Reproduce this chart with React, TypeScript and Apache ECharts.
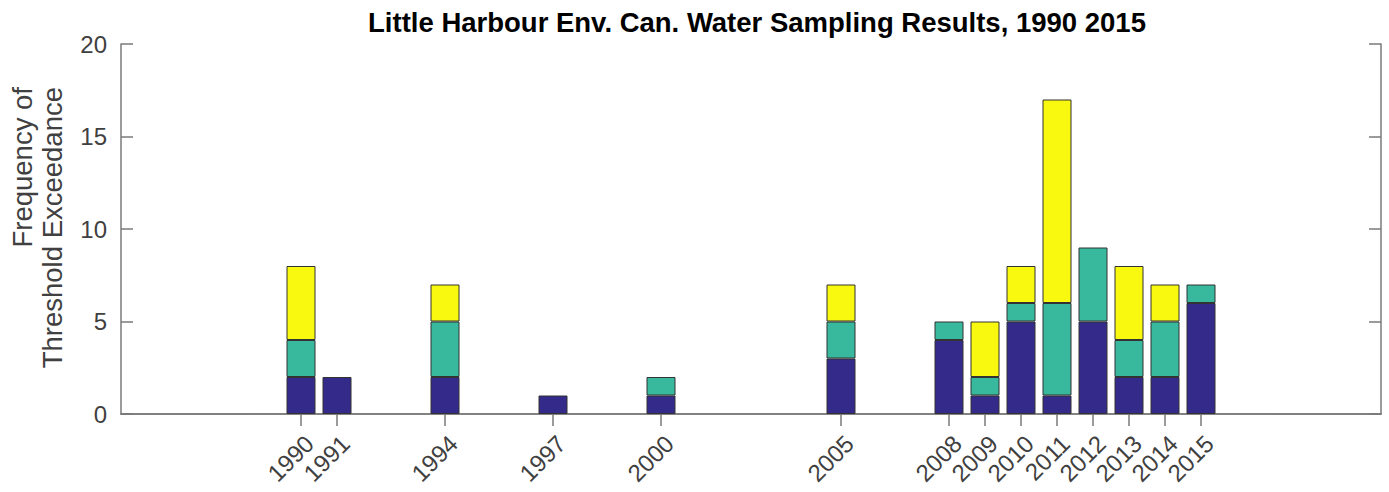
import React, { useEffect, useRef } from "react";
import * as echarts from "echarts";

const years = [1990, 1991, 1994, 1997, 2000, 2005, 2008, 2009, 2010, 2011, 2012, 2013, 2014, 2015];
const seriesA = [2, 2, 2, 1, 1, 3, 4, 1, 5, 1, 5, 2, 2, 6];
const seriesB = [2, 0, 3, 0, 1, 2, 1, 1, 1, 5, 4, 2, 3, 1];
const seriesC = [4, 0, 2, 0, 0, 2, 0, 3, 2, 11, 0, 4, 2, 0];
const axisStart = 1985;
const axisEnd = 2020;
const yTicks = [0, 5, 10, 15, 20];
const colors = ["#332a8a", "#38b89c", "#f8f90f"];
const titleText = "Little Harbour Env. Can. Water Sampling Results, 1990 2015";
const yLabelLines = ["Frequency of", "Threshold Exceedance"];

export default function App() {
  const ref = useRef<HTMLDivElement>(null);
  useEffect(() => {
    if (!ref.current) return;
    const chart = echarts.init(ref.current, undefined, { renderer: "svg" });
    const font = "'Liberation Sans', Arial, Helvetica, sans-serif";
    const axisColor = "#7a7a7a";
    const allYears: string[] = [];
    for (let y = axisStart; y <= axisEnd; y++) allYears.push(String(y));
    const isDataYear = (v: string) => years.includes(Number(v));
    const mk = (vals: number[], i: number) => ({
      type: "bar",
      stack: "total",
      barWidth: 29,
      data: allYears.map((y) => {
        const k = years.indexOf(Number(y));
        return k >= 0 && vals[k] > 0 ? vals[k] : null;
      }),
      itemStyle: { color: colors[i], borderColor: "#333333", borderWidth: 1 },
      xAxisIndex: 0,
      yAxisIndex: 0,
    });
    const xCommon = {
      type: "category",
      data: allYears,
      boundaryGap: false,
      splitLine: { show: false },
      axisLine: { show: true, lineStyle: { color: axisColor, width: 1.5 } },
      axisTick: {
        show: true,
        inside: true,
        length: 12,
        interval: (_i: number, v: string) => isDataYear(v),
        lineStyle: { color: axisColor, width: 1.5 },
      },
    };
    const yCommon = {
      type: "value",
      min: 0,
      max: 20,
      interval: 5,
      splitLine: { show: false },
      axisLine: { show: true, lineStyle: { color: axisColor, width: 1.5 } },
      axisTick: { show: true, inside: true, length: 12, lineStyle: { color: axisColor, width: 1.5 } },
    };
    chart.setOption({
      animation: false,
      title: {
        text: titleText,
        left: 752,
        top: 3,
        textAlign: "center",
        textStyle: { fontFamily: font, fontSize: 27.5, fontWeight: "bold", color: "#000" },
      },
      grid: { left: 121, right: 8, top: 44, bottom: 78 },
      xAxis: [
        {
          ...xCommon,
          position: "bottom",
          axisLabel: {
            show: true,
            interval: (_i: number, v: string) => isDataYear(v),
            rotate: 45,
            margin: 17,
            verticalAlign: "top",
            fontFamily: font,
            fontSize: 24,
            color: "#404040",
          },
        },
        {
          ...xCommon,
          position: "top",
          axisLabel: { show: false },
        },
      ],
      yAxis: [
        {
          ...yCommon,
          position: "left",
          axisLabel: {
            show: true,
            margin: 14,
            fontFamily: font,
            fontSize: 24,
            color: "#404040",
            formatter: (v: number) => (yTicks.includes(v) ? String(v) : ""),
          },
        },
        { ...yCommon, position: "right", axisLabel: { show: false } },
      ],
      graphic: yLabelLines.map((t, i) => ({
        type: "text",
        x: 22 + i * 30,
        y: 87,
        rotation: Math.PI / 2,
        style: {
          text: t,
          align: "right",
          verticalAlign: "middle",
          fontFamily: font,
          fontSize: 27.5,
          fill: "#404040",
        },
      })),
      series: [mk(seriesA, 0), mk(seriesB, 1), mk(seriesC, 2)],
    });
    return () => chart.dispose();
  }, []);
  return (
    <div
      ref={ref}
      style={{ position: "fixed", left: 0, top: 0, width: 1389, height: 492, background: "#fff" }}
    />
  );
}
